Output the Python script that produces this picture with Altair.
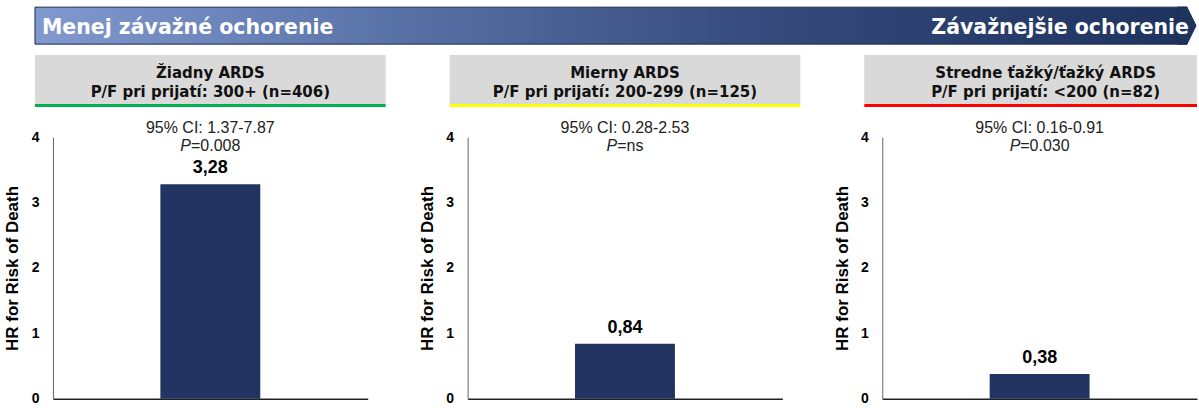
import altair as alt
import pandas as pd

# ---- data ----
groups = ["Žiadny ARDS", "Mierny ARDS", "Stredne ťažký/ťažký ARDS"]
subtitles = ["P/F pri prijatí: 300+ (n=406)",
             "P/F pri prijatí: 200-299 (n=125)",
             "P/F pri prijatí: <200 (n=82)"]
hr_values = [3.28, 0.84, 0.38]
hr_labels = ["3,28", "0,84", "0,38"]
ci_labels = ["95% CI: 1.37-7.87", "95% CI: 0.28-2.53", "95% CI: 0.16-0.91"]
p_labels = ["=0.008", "=ns", "=0.030"]
line_colors = ["#00b050", "#ffff00", "#ff0000"]
y_ticks = [0, 1, 2, 3, 4]
banner_left = ["Menej závažné ochorenie"]
banner_right = ["Závažnejšie ochorenie"]
y_title = "HR for Risk of Death"

# ---- styling ----
W = 315
H = 262
ARIAL = "Liberation Sans"
HEAD = "DejaVu Sans"
BAR = "#233462"
CI_SIZE = 16

# rough Arial advance widths (em) for placing the italic "P"
_aw = {"P": 0.667, "=": 0.584, ".": 0.278, "n": 0.556, "s": 0.5}


def text_w(s, size):
    return sum(_aw.get(c, 0.556) for c in s) * size


def panel(i):
    df = pd.DataFrame({
        "g": [groups[i]], "hr": [hr_values[i]], "lab": [hr_labels[i]],
        "ci": [ci_labels[i]], "p": [p_labels[i]], "pp": ["P"],
        "t1": [groups[i]], "t2": [subtitles[i]],
    })
    base = alt.Chart(df)
    x = alt.X("g:N", title=None,
              axis=alt.Axis(labels=False, ticks=False, domainColor="#222222",
                            domainWidth=1.5))
    y = alt.Y("hr:Q", scale=alt.Scale(domain=[0, 4], nice=False),
              axis=alt.Axis(values=y_ticks, format="d", title=y_title, grid=False,
                            tickSize=0, labelPadding=14, labelFont=ARIAL,
                            labelFontSize=14, labelFontWeight="bold",
                            labelColor="#000000", titleFont=ARIAL, titleFontSize=17,
                            titleFontWeight="bold", titleColor="#000000", titleX=-40,
                            titleBaseline="middle", domainColor="#666666",
                            domainWidth=1))

    x2_box = W + 18 if i < 2 else W
    head_cx = W / 2 + (6 if i == 2 else 0)
    box = base.mark_rect(color="#d9d9d9").encode(
        x=alt.value(-18), x2=alt.value(x2_box), y=alt.value(-82), y2=alt.value(-33))
    uline = base.mark_rect(color=line_colors[i]).encode(
        x=alt.value(-18), x2=alt.value(x2_box), y=alt.value(-33), y2=alt.value(-30))
    h1 = base.mark_text(font=HEAD, fontSize=15, fontWeight="bold", color="#111111",
                        baseline="alphabetic").encode(
        x=alt.value(head_cx), y=alt.value(-59), text="t1:N")
    h2 = base.mark_text(font=HEAD, fontSize=15, fontWeight="bold", color="#111111",
                        baseline="alphabetic").encode(
        x=alt.value(head_cx), y=alt.value(-40), text="t2:N")

    bars = base.mark_bar(size=100, color=BAR).encode(x=x, y=y)
    val = base.mark_text(dy=-16, font=ARIAL, fontSize=18, fontWeight="bold",
                         color="#000000").encode(x="g:N", y="hr:Q", text="lab:N")
    ci = base.mark_text(font=ARIAL, fontSize=CI_SIZE, color="#222222").encode(
        x="g:N", y=alt.value(-9), text="ci:N")
    full = "P" + p_labels[i]
    split = -text_w(full, CI_SIZE) / 2 + text_w("P", CI_SIZE)
    p_it = base.mark_text(font=ARIAL, fontSize=CI_SIZE, fontStyle="italic",
                          color="#222222", align="right", dx=split).encode(
        x="g:N", y=alt.value(8.5), text="pp:N")
    p_rest = base.mark_text(font=ARIAL, fontSize=CI_SIZE, color="#222222",
                            align="left", dx=split).encode(
        x="g:N", y=alt.value(8.5), text="p:N")

    layers = [box, uline, h1, h2, bars, val, ci, p_it, p_rest]

    if i == 0:
        bdf = pd.DataFrame({"left": banner_left, "right": banner_right})
        bb = alt.Chart(bdf)
        grad = alt.Gradient(
            gradient="linear", x1=0, x2=1, y1=0, y2=0,
            stops=[alt.GradientStop(color="#8199cf", offset=0),
                   alt.GradientStop(color="#5a73a8", offset=0.3),
                   alt.GradientStop(color="#34487a", offset=0.65),
                   alt.GradientStop(color="#1f335f", offset=1)])
        brect = bb.mark_rect(color=grad, stroke="#1c2c4e", strokeWidth=1).encode(
            x=alt.value(-18), x2=alt.value(1135), y=alt.value(-130), y2=alt.value(-93))
        tip = bb.mark_point(shape="M-1,-1L-0.49,-1L0,0L-0.49,1L-1,1Z", size=1369,
                            filled=True, fill="#1f335f", stroke="#1c2c4e",
                            strokeWidth=1, opacity=1).encode(
            x=alt.value(1144), y=alt.value(-111.5))
        tl = bb.mark_text(font=HEAD, fontSize=20.5, fontWeight="bold", color="white",
                          align="left", baseline="alphabetic").encode(
            x=alt.value(-11), y=alt.value(-103), text="left:N")
        tr = bb.mark_text(font=HEAD, fontSize=20.5, fontWeight="bold", color="white",
                          align="right", baseline="alphabetic").encode(
            x=alt.value(1137), y=alt.value(-103), text="right:N")
        layers = [brect, tip, tl, tr] + layers

    return alt.layer(*layers).properties(width=W, height=H)


chart = alt.hconcat(panel(0), panel(1), panel(2), spacing=100, bounds="flush").properties(
    padding={"left": 3, "top": 4, "right": 0, "bottom": 0}
).configure_view(stroke="transparent")

chart.save("out.html", embed_options={"renderer": "svg", "actions": False})
